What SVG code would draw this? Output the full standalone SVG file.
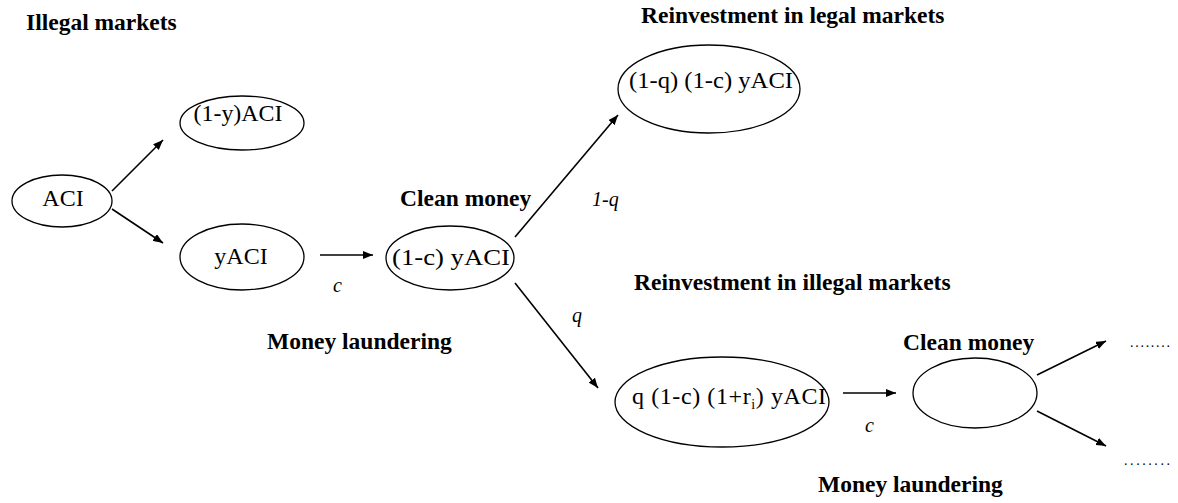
<svg xmlns="http://www.w3.org/2000/svg" width="1178" height="503" viewBox="0 0 1178 503">
<defs>
<marker id="ah" viewBox="0 0 10 8" refX="10" refY="4" markerWidth="10" markerHeight="8" markerUnits="userSpaceOnUse" orient="auto">
<path d="M0,0 L10,4 L0,8 Z" fill="#000"/>
</marker>
</defs>
<style>
.lbl{font-family:"Liberation Serif",serif;font-weight:bold;font-size:23.5px;fill:#000}
.nt{font-family:"Liberation Serif",serif;font-size:24px;fill:#000;text-anchor:middle}
.it{font-family:"Liberation Serif",serif;font-style:italic;font-size:20px;fill:#000}
.dots{font-family:"Liberation Serif",serif;font-size:14px;fill:#000}
ellipse{fill:#fff;stroke:#000;stroke-width:1.3}
.c line{stroke:#000;stroke-width:1.6;marker-end:url(#ah)}
</style>
<rect width="1178" height="503" fill="#fff"/>
<g id="labels">
<text class="lbl" x="26" y="30">Illegal markets</text>
<text class="lbl" x="641" y="23">Reinvestment in legal markets</text>
<text class="lbl" x="400" y="206">Clean money</text>
<text class="lbl" x="634" y="290">Reinvestment in illegal markets</text>
<text class="lbl" x="267" y="349">Money laundering</text>
<text class="lbl" x="903" y="350">Clean money</text>
<text class="lbl" x="818" y="492">Money laundering</text>
</g>
<g id="n_aci"><ellipse cx="62" cy="201" rx="50" ry="26"/><text class="nt" x="63" y="206" font-size="23">ACI</text></g>
<g id="n_1yaci"><ellipse cx="242" cy="123" rx="62" ry="27"/><text class="nt" x="238" y="121" textLength="89" lengthAdjust="spacingAndGlyphs">(1-y)ACI</text></g>
<g id="n_yaci"><ellipse cx="242" cy="257" rx="62" ry="33"/><text class="nt" x="241" y="264">yACI</text></g>
<g id="n_clean1"><ellipse cx="450" cy="258" rx="64" ry="32"/><text class="nt" x="451" y="265" textLength="118" lengthAdjust="spacingAndGlyphs">(1-c) yACI</text></g>
<g id="n_legal"><ellipse cx="709" cy="89" rx="91" ry="44"/><text class="nt" x="711" y="88" textLength="164" lengthAdjust="spacingAndGlyphs">(1-q) (1-c) yACI</text></g>
<g id="n_illegal"><ellipse cx="722" cy="402" rx="107" ry="45"/><text class="nt" x="729" y="404" textLength="194" lengthAdjust="spacing">q (1-c) (1+r<tspan font-size="14" dy="5">i</tspan><tspan dy="-5">) yACI</tspan></text></g>
<g id="n_clean2"><ellipse cx="975" cy="393" rx="62" ry="35"/></g>
<g id="connectors" class="c">
<line x1="112" y1="191" x2="163" y2="140"/>
<line x1="112" y1="209" x2="163" y2="243"/>
<line x1="320" y1="255" x2="373" y2="255"/>
<line x1="515" y1="237" x2="618" y2="115"/>
<line x1="515" y1="283" x2="598" y2="388"/>
<line x1="843" y1="393" x2="896" y2="393"/>
<line x1="1037" y1="375" x2="1106" y2="341"/>
<line x1="1037" y1="411" x2="1106" y2="446"/>
</g>
<g id="edge_labels">
<text class="it" x="333" y="292">c</text>
<text class="it" x="592" y="206">1-q</text>
<text class="it" x="572" y="322">q</text>
<text class="it" x="865" y="432">c</text>
<text class="dots" x="1130" y="347" textLength="40">........</text>
<text class="dots" x="1124" y="465" textLength="46">........</text>
</g>
</svg>
